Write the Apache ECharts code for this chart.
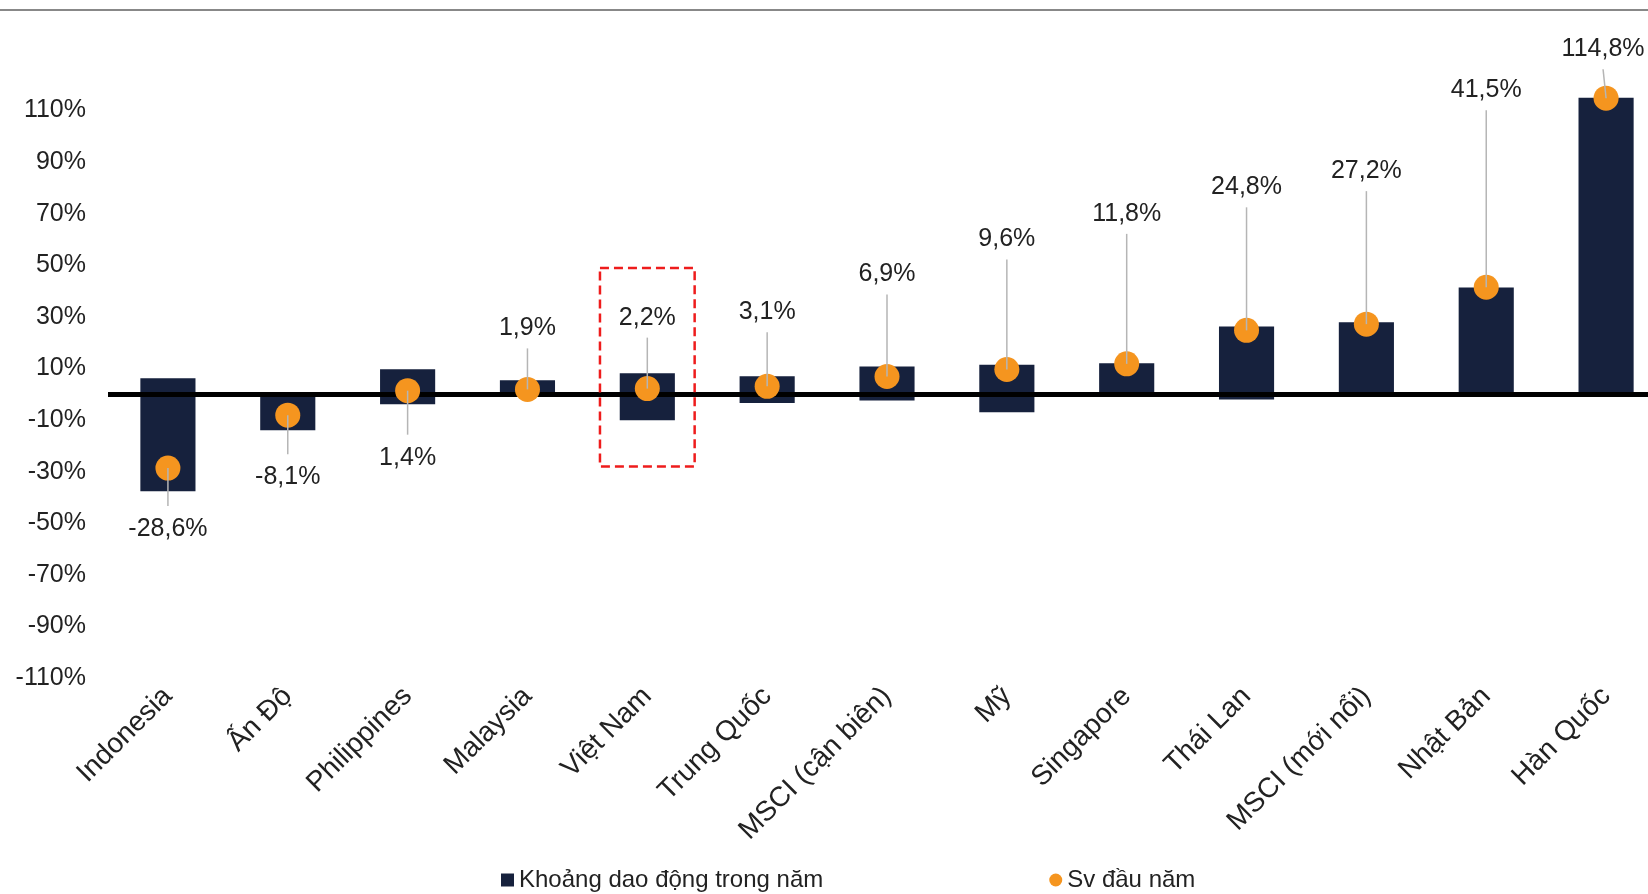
<!DOCTYPE html>
<html><head><meta charset="utf-8">
<script src="https://cdn.jsdelivr.net/npm/echarts@6/dist/echarts.min.js"></script>
<style>html,body{margin:0;padding:0;background:#fff;overflow:hidden;}#c{width:1666px;height:894px;}</style>
</head><body><div id="c"></div>
<script>
const categories = ['Indonesia','Ấn Độ','Philippines','Malaysia','Việt Nam','Trung Quốc','MSCI (cận biên)','Mỹ','Singapore','Thái Lan','MSCI (mới nổi)','Nhật Bản','Hàn Quốc'];
const rangeLow  = [-37.6,-13.9,-3.9,-0.5,-10.1,-3.4,-2.4,-7.0,-0.5,-2.0,-0.8,0,0];
const rangeHigh = [6.2,0.8,9.7,5.4,8.2,7.0,10.8,11.5,12.0,26.3,27.9,41.4,115.0];
const ytdChange = [-28.6,-8.1,1.4,1.9,2.2,3.1,6.9,9.6,11.8,24.8,27.2,41.5,114.8];
const valueLabels = ['-28,6%','-8,1%','1,4%','1,9%','2,2%','3,1%','6,9%','9,6%','11,8%','24,8%','27,2%','41,5%','114,8%'];
const highlightBox = [[4, 49, -28]];
const seriesNames = ['Khoảng dao động trong năm','Sv đầu năm'];

// label placement (pixels from dot, layout only)
const labelDy = [61,62,67,-61,-71,-74,-102,-130,-150,-143,-153,-197,-49];
const labelDx = [0,0,0,0,0,0,0,0,0,0,0,0,-3];

const FONT = 'Liberation Sans, Arial, sans-serif';
const chart = echarts.init(document.getElementById('c'), null, {renderer:'canvas'});

const option = {
  animation:false,
  backgroundColor:'#ffffff',
  grid:{left:108, top:59, right:0, height:619, containLabel:false},
  legend:{
    top:863, left:496, itemGap:226, itemWidth:13, itemHeight:13,
    textStyle:{fontFamily:FONT, fontSize:24, color:'#222'},
    data:[{name:seriesNames[0], icon:'rect'},{name:seriesNames[1], icon:'circle'}]
  },
  xAxis:{
    type:'category', data:categories,
    axisLine:{show:false}, axisTick:{show:false}, splitLine:{show:false},
    axisLabel:{rotate:45, margin:14, interval:0, fontFamily:FONT, fontSize:28, color:'#222'}
  },
  yAxis:{
    type:'value', min:-110, max:130, interval:20,
    axisLine:{show:false}, axisTick:{show:false}, splitLine:{show:false},
    axisLabel:{showMaxLabel:false, margin:22, fontFamily:FONT, fontSize:25, color:'#222',
      formatter:v=>v+'%'}
  },
  series:[
    {
      name:seriesNames[0], type:'bar', data:rangeHigh, barWidth:'46%', barGap:'-100%',
      itemStyle:{color:'#16213d'}, z:2,
      markLine:{silent:true, symbol:'none', label:{show:false},
        lineStyle:{color:'#000', width:5, type:'solid'}, data:[{yAxis:0}]}
    },
    {
      name:seriesNames[0], type:'bar', data:rangeLow, barWidth:'46%', barGap:'-100%',
      itemStyle:{color:'#16213d'}, z:2
    },
    {
      name:seriesNames[1], type:'scatter', data:ytdChange.map((v,i)=>[i,v]),
      symbolSize:25, itemStyle:{color:'#F5951F', opacity:1}, z:5
    },
    {
      name:'labels', type:'custom', z:6, silent:true,
      data:ytdChange.map((v,i)=>[i,v]),
      renderItem:function(params, api){
        const i = api.value(0), v = api.value(1);
        const p = api.coord([i, v]);
        const dy = labelDy[i], dx = labelDx[i];
        const ly = p[1] + dy, lx = p[0] + dx;
        const endY = dy < 0 ? ly + 20 : ly - 23;
        return {type:'group', children:[
          {type:'line', shape:{x1:p[0], y1:p[1], x2:lx, y2:endY},
            style:{stroke:'#b5b5b5', lineWidth:1.5}},
          {type:'text', x:lx, y:ly,
            style:{text:valueLabels[i], textAlign:'center', textVerticalAlign:'middle',
              font:'25px '+FONT, fill:'#222'}}
        ]};
      }
    },
    {
      name:'highlight', type:'custom', z:7, silent:true,
      data:highlightBox,
      renderItem:function(params, api){
        const a = api.coord([api.value(0), api.value(1)]);
        const b = api.coord([api.value(0), api.value(2)]);
        const w = api.size([1,0])[0]*0.79;
        return {type:'rect', shape:{x:a[0]-w/2, y:a[1], width:w, height:b[1]-a[1]},
          style:{fill:'none', stroke:'#ee1c1c', lineWidth:2.5, lineDash:[9,5]}};
      }
    }
  ],
  graphic:[{type:'rect', left:0, top:9, shape:{width:1666, height:2}, style:{fill:'#888'}}]
};
chart.setOption(option);
</script></body></html>
